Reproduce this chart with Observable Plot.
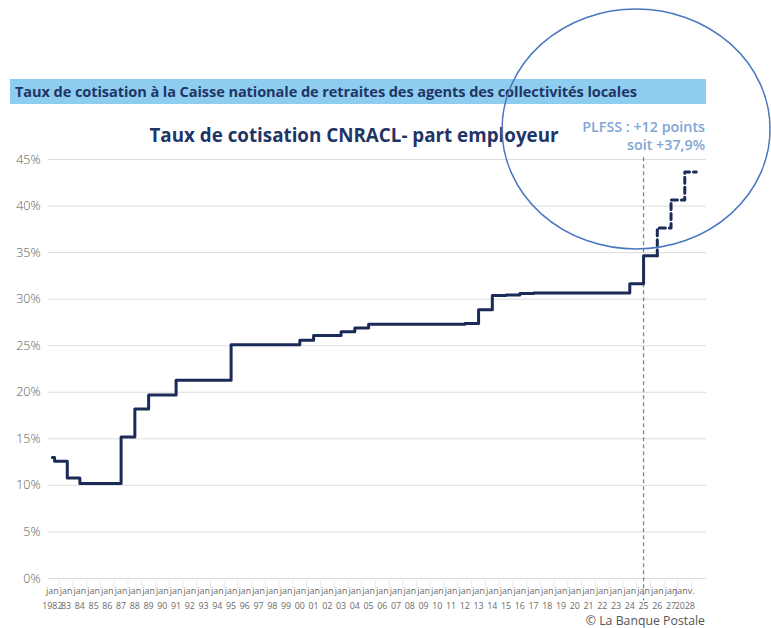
<!DOCTYPE html>
<html>
<head>
<meta charset="utf-8">
<script src="https://cdn.jsdelivr.net/npm/d3@7"></script>
<script src="https://cdn.jsdelivr.net/npm/@observablehq/plot@0.6"></script>
<style>
  html, body { margin: 0; padding: 0; background: #fff; }
  #wrap { position: relative; width: 771px; height: 628px; overflow: hidden; font-family: "Open Sans", sans-serif; }
  #chart { position: absolute; left: 0; top: 0; }
  #banner { position: absolute; left: 10px; top: 79px; width: 696px; height: 25px; background: #8fcdf0;
            color: #1f3566; font-weight: 700; font-size: 14.6px; line-height: 25px; padding-left: 5px; box-sizing: border-box; white-space: nowrap; letter-spacing: -0.1px; }
  #title { position: absolute; left: 80px; width: 548px; top: 122px; text-align: center; color: #1f3566;
           font-weight: 700; font-size: 18.8px; line-height: 26px; white-space: nowrap; }
  #note { position: absolute; right: 66px; top: 118px; text-align: right; color: #7ea6d6; font-weight: 600;
          font-size: 14.3px; line-height: 18px; white-space: nowrap; }
  #caption { position: absolute; right: 66px; top: 613px; color: #555; font-size: 12.3px; line-height: 15px; white-space: nowrap; }
  #overlay { position: absolute; left: 0; top: 0; pointer-events: none; }
</style>
</head>
<body>
<div id="wrap">
  <div id="chart"></div>
  <div id="banner">Taux de cotisation à la Caisse nationale de retraites des agents des collectivités locales</div>
  <div id="title">Taux de cotisation CNRACL- part employeur</div>
  <div id="note">PLFSS : +12 points<br>soit +37,9%</div>
  <div id="caption">© La Banque Postale</div>
</div>
<script>
// Historical employer contribution rate (%), step changes
const histDates = ["1982-01-01","1982-03-01","1983-02-01","1984-01-01","1987-01-01","1988-01-01","1989-01-01","1991-01-01","1995-01-01","2000-01-01","2001-01-01","2003-01-01","2004-01-01","2005-01-01","2012-01-01","2013-01-01","2014-01-01","2015-01-01","2016-01-01","2017-01-01","2024-01-01","2025-01-01","2026-01-01"];
const histRates = [13.0, 12.6, 10.8, 10.2, 15.2, 18.2, 19.7, 21.3, 25.1, 25.6, 26.1, 26.5, 26.9, 27.3, 27.4, 28.85, 30.4, 30.45, 30.6, 30.65, 31.65, 34.65, 34.65];

// Projected rates (PLFSS)
const projDates = ["2026-01-01","2026-01-01","2027-01-01","2028-01-01","2028-11-01"];
const projRates = [34.65, 37.65, 40.65, 43.65, 43.65];

// Annotation date (PLFSS)
const markerDate = ["2025-01-01"];

// Axis labels
const yTicks = [0, 5, 10, 15, 20, 25, 30, 35, 40, 45];
const yearLabels = ["1982","83","84","85","86","87","88","89","90","91","92","93","94","95","96","97","98","99","00","01","02","03","04","05","06","07","08","09","10","11","12","13","14","15","16","17","18","19","20","21","22","23","24","25","26","27","2028"];
const monthLabels = yearLabels.map((_, i) => i === yearLabels.length - 1 ? "janv." : "jan");

const hist = histDates.map((d, i) => ({date: new Date(d), rate: histRates[i]}));
const proj = projDates.map((d, i) => ({date: new Date(d), rate: projRates[i]}));
const tickDates = yearLabels.map((_, i) => new Date(Date.UTC(1982 + i, 0, 1)));
const labelMap = new Map(tickDates.map((d, i) => [+d, monthLabels[i] + "\n" + yearLabels[i]]));
const sepDates = yearLabels.map((_, i) => new Date(Date.UTC(1982 + i, 6, 1)));

const plot = Plot.plot({
  width: 771,
  height: 628,
  marginTop: 159,
  marginBottom: 50,
  marginLeft: 48,
  marginRight: 65,
  style: {fontFamily: "Open Sans, sans-serif", background: "transparent", overflow: "visible"},
  x: {type: "utc", domain: [new Date("1981-09-20"), new Date("2029-07-31")], label: null},
  y: {domain: [0, 45], label: null},
  marks: [
    Plot.gridY(yTicks, {stroke: "#dcdcdc", strokeOpacity: 1, strokeWidth: 1}),
    Plot.ruleX(sepDates, {y1: 0, y2: -1.25, stroke: "#ececec", strokeWidth: 1}),
    Plot.axisY(yTicks, {tickFormat: d => d + "%", tickSize: 0, tickPadding: 8, fontSize: 12.5, color: "#5a5a5a", fontWeight: 300, label: null}),
    Plot.axisX(tickDates, {tickFormat: d => labelMap.get(+d), tickSize: 0, tickPadding: 5, fontSize: 8.9, lineHeight: 1.7, color: "#6a6a6a", label: null}),
    Plot.ruleX(markerDate.map(d => new Date(d)), {y1: 45.2, y2: -2.4, stroke: "#5b8fd3", strokeWidth: 1.3, strokeDasharray: "4,3"}),
    Plot.line(hist, {x: "date", y: "rate", curve: "step-after", stroke: "#1b2a57", strokeWidth: 3}),
    Plot.line(proj, {x: "date", y: "rate", curve: "step-after", stroke: "#1b2a57", strokeWidth: 3, strokeDasharray: "6,4"})
  ]
});
document.getElementById("chart").appendChild(plot);

// Highlight ellipse around the PLFSS projection, anchored on the scales
const xs = plot.scale("x"), ys = plot.scale("y");
const cx = xs.apply(new Date(markerDate[0])) - 7;
const cy = ys.apply(45) - 30;
const ov = d3.select("#wrap").append("svg").attr("id", "overlay").attr("width", 771).attr("height", 628);
ov.append("ellipse").attr("cx", cx).attr("cy", cy).attr("rx", 134).attr("ry", 120)
  .attr("fill", "none").attr("stroke", "#4a78c0").attr("stroke-width", 1.5);
</script>
</body>
</html>
